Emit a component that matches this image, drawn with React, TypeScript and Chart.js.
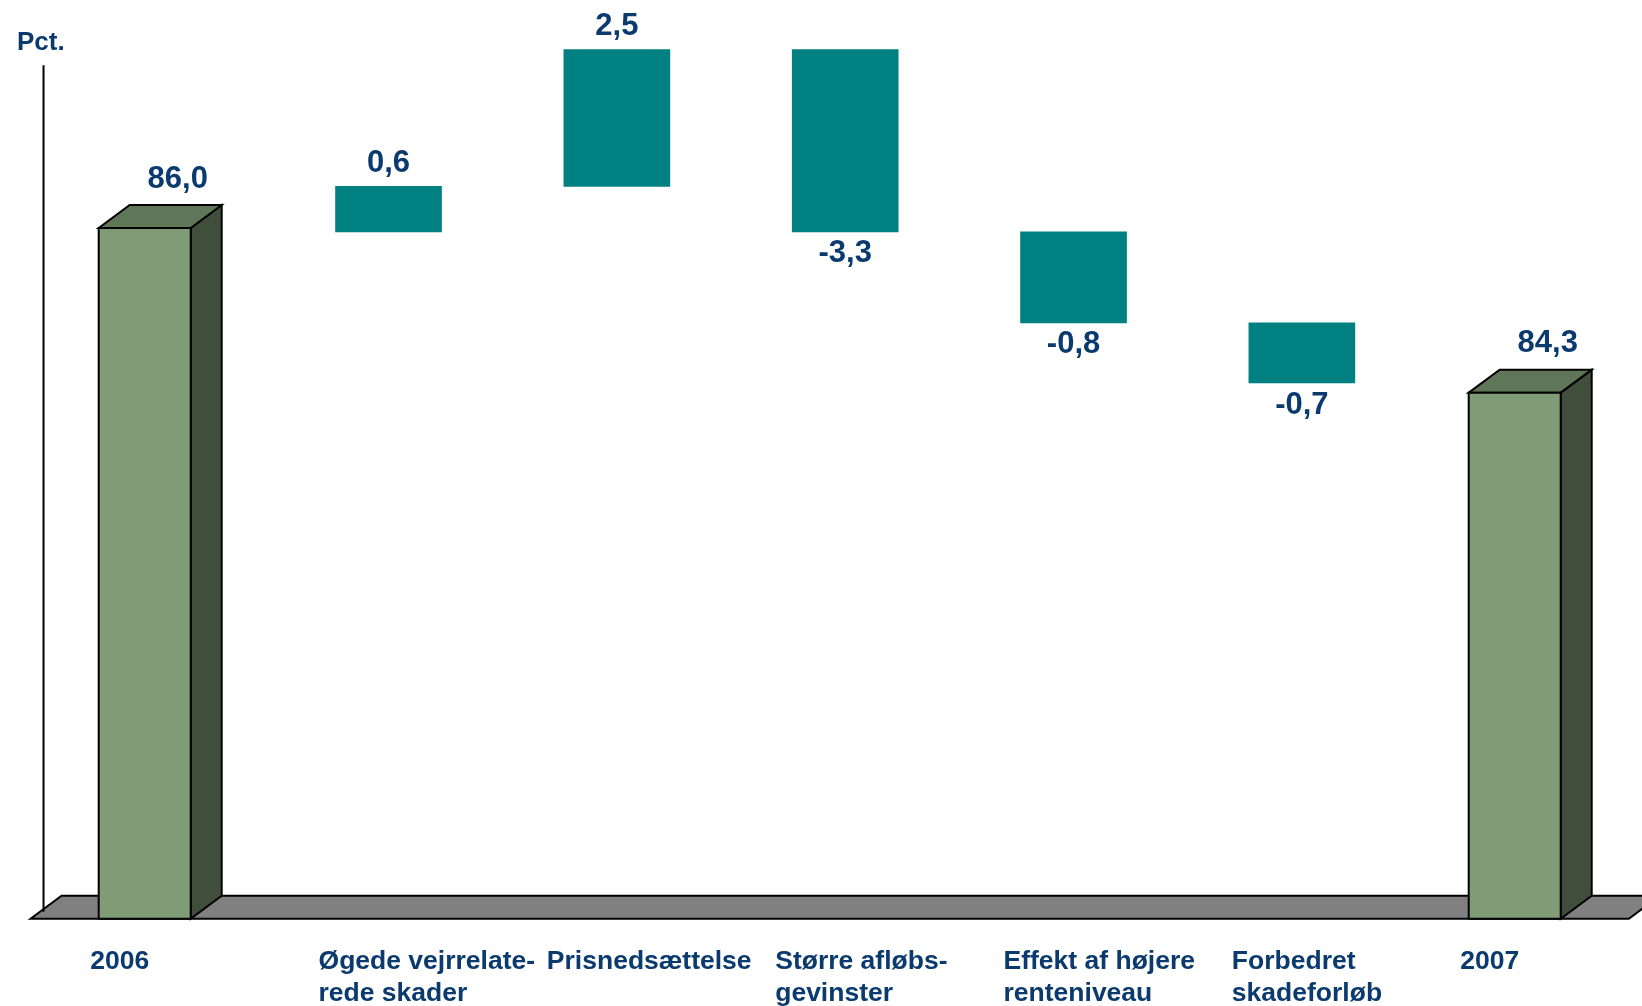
import React, { useEffect, useRef } from "react";
import { Chart, registerables } from "chart.js";

Chart.register(...registerables);

// ---- data ----
const categories: string[][] = [
  ["2006"],
  ["Øgede vejrrelate-", "rede skader"],
  ["Prisnedsættelse"],
  ["Større afløbs-", "gevinster"],
  ["Effekt af højere", "renteniveau"],
  ["Forbedret", "skadeforløb"],
  ["2007"],
];
const totalValues: (number | null)[] = [86.0, null, null, null, null, null, 84.3];
const changeValues: (number | null)[] = [null, 0.6, 2.5, -3.3, -0.8, -0.7, null];
// floating-bar extents (same scale as the totals)
const changeLow: (number | null)[] = [null, 85.96, 86.43, 85.96, 85.02, 84.4, null];
const changeHigh: (number | null)[] = [null, 86.43, 87.84, 87.84, 85.96, 85.02, null];
const yMin = 78.87;
const yMax = 88.0;
const unitLabel = "Pct.";

// ---- styles ----
const NAVY = "#0b3a6e";
const TEAL = "#008080";
const FRONT = "#7f9c76";
const TOP = "#5f7658";
const SIDE = "#3f4f3b";
const FLOOR = "#808080";
const FONT = '"Liberation Sans", Arial, Helvetica, sans-serif';
const DX = 31;
const DY = 23;

const fmt = (v: number) => v.toFixed(1).replace(".", ",");

const decor = {
  id: "decor",
  beforeDatasetsDraw(chart: any) {
    const { ctx, chartArea, scales } = chart;
    const xs = scales.x;
    const n = categories.length;
    const step = xs.getPixelForTick(1) - xs.getPixelForTick(0);
    const L = xs.getPixelForTick(0) - step / 2;
    const R = xs.getPixelForTick(n - 1) + step / 2;
    const b = chartArea.bottom;
    ctx.save();
    ctx.beginPath();
    ctx.moveTo(L - DX / 2, b);
    ctx.lineTo(L + DX / 2, b - DY);
    ctx.lineTo(R + DX / 2, b - DY);
    ctx.lineTo(R - DX / 2, b);
    ctx.closePath();
    ctx.fillStyle = FLOOR;
    ctx.fill();
    ctx.lineWidth = 2;
    ctx.strokeStyle = "#000";
    ctx.stroke();
    // value axis line
    ctx.beginPath();
    ctx.moveTo(L - 2.5, chartArea.top + 31);
    ctx.lineTo(L - 2.5, b - 7);
    ctx.stroke();
    ctx.restore();
  },
  afterDatasetsDraw(chart: any) {
    const { ctx } = chart;
    ctx.save();
    ctx.lineWidth = 2;
    ctx.strokeStyle = "#000";
    ctx.lineJoin = "miter";
    const m0 = chart.getDatasetMeta(0);
    m0.data.forEach((el: any, i: number) => {
      const v = totalValues[i];
      if (v == null) return;
      const { x, y, base, width } = el.getProps(["x", "y", "base", "width"], true);
      const fl = x - width / 2;
      const fr = fl + (width - DX);
      // side
      ctx.beginPath();
      ctx.moveTo(fr, y);
      ctx.lineTo(fr + DX, y - DY);
      ctx.lineTo(fr + DX, base - DY);
      ctx.lineTo(fr, base);
      ctx.closePath();
      ctx.fillStyle = SIDE;
      ctx.fill();
      ctx.stroke();
      // top
      ctx.beginPath();
      ctx.moveTo(fl, y);
      ctx.lineTo(fl + DX, y - DY);
      ctx.lineTo(fr + DX, y - DY);
      ctx.lineTo(fr, y);
      ctx.closePath();
      ctx.fillStyle = TOP;
      ctx.fill();
      ctx.stroke();
      // front
      ctx.beginPath();
      ctx.rect(fl, y, fr - fl, base - y);
      ctx.fillStyle = FRONT;
      ctx.fill();
      ctx.stroke();
      // label
      ctx.fillStyle = NAVY;
      ctx.font = `bold 31px ${FONT}`;
      ctx.textAlign = "center";
      ctx.textBaseline = "middle";
      ctx.fillText(fmt(v), x + 17.5, y - 49);
    });
    const m1 = chart.getDatasetMeta(1);
    m1.data.forEach((el: any, i: number) => {
      const v = changeValues[i];
      if (v == null) return;
      const { x, y, base } = el.getProps(["x", "y", "base"], true);
      const top = Math.min(y, base);
      const bot = Math.max(y, base);
      ctx.fillStyle = NAVY;
      ctx.font = `bold 31px ${FONT}`;
      ctx.textAlign = "center";
      ctx.textBaseline = "middle";
      if (v >= 0) ctx.fillText(fmt(v), x, top - 23);
      else ctx.fillText(fmt(v), x, bot + 22);
    });
    ctx.font = `bold 26px ${FONT}`;
    ctx.textAlign = "left";
    ctx.textBaseline = "middle";
    ctx.fillStyle = NAVY;
    ctx.fillText(unitLabel, 17, 43);
    ctx.restore();
  },
};

export default function App() {
  const ref = useRef<HTMLCanvasElement | null>(null);
  useEffect(() => {
    if (!ref.current) return;
    const floating = changeLow.map((lo, i) =>
      lo == null || changeHigh[i] == null ? null : [lo, changeHigh[i] as number]
    );
    const chart = new Chart(ref.current, {
      type: "bar",
      data: {
        labels: categories,
        datasets: [
          {
            data: totalValues as any,
            base: yMin,
            backgroundColor: "rgba(0,0,0,0)",
            borderWidth: 0,
            barThickness: 123,
            grouped: false,
            clip: false as any,
          } as any,
          {
            data: floating as any,
            backgroundColor: TEAL,
            borderWidth: 0,
            barThickness: 106,
            grouped: false,
            clip: false as any,
          },
        ],
      },
      options: {
        responsive: false,
        animation: false,
        devicePixelRatio: 1,
        layout: { padding: { left: 160.2, right: 111.8, top: 34.2, bottom: 0 } },
        plugins: { legend: { display: false }, tooltip: { enabled: false }, title: { display: false } },
        scales: {
          x: {
            type: "category",
            offset: false,
            grid: { display: false },
            border: { display: false },
            afterFit: (scale: any) => {
              scale.height = 87.3;
            },
            ticks: {
              color: NAVY,
              font: { family: FONT, size: 26.5, weight: "bold" },
              padding: 19,
              maxRotation: 0,
              minRotation: 0,
              autoSkip: false,
              align: "start",
              labelOffset: -70,
            },
          } as any,
          y: {
            type: "linear",
            display: false,
            min: yMin,
            max: yMax,
          },
        },
      },
      plugins: [decor],
    });
    return () => chart.destroy();
  }, []);
  return (
    <div style={{ position: "fixed", left: 0, top: 0, width: 1642, height: 1006, background: "#fff" }}>
      <canvas ref={ref} width={1642} height={1006} style={{ display: "block" }} />
    </div>
  );
}
